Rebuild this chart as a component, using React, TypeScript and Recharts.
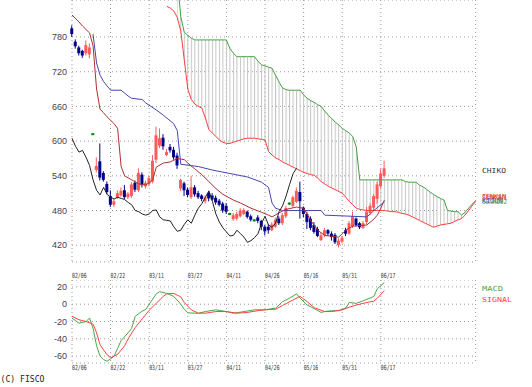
import React from 'react';
import { ComposedChart, Line, Bar, Area, XAxis, YAxis, CartesianGrid } from 'recharts';

// bar index of each date gridline and its label
const DATE_TICKS = [0, 11, 22, 33, 44, 55, 66, 77, 88];
const DATE_LABELS = ['02/06', '02/22', '03/11', '03/27', '04/11', '04/26', '05/16', '05/31', '06/17'];
const PRICE_TICKS = [420, 480, 540, 600, 660, 720, 780];
const MACD_TICKS = [-60, -40, -20, 0, 20];

// daily candles, bars 0..89
const OPEN = [795, 772, 762, 756, 752, 750, 612, 550, 565, 545, 526, 505, 490, 502, 506, 515, 503, 505, 528, 515,
  542, 522, 526, 530, 568, 592, 606, 576, 590, 585, 575, 518, 527, 516, 503, 520, 510, 506, 496, 510,
  506, 502, 497, 492, 488, 474, 465, 466, 470, 474, 478, 470, 463, 468, 462, 452, 452, 446, 452, 466,
  458, 470, 492, 488, 495, 512, 485, 474, 466, 455, 448, 429, 437, 446, 440, 438, 420, 426, 446, 440,
  452, 466, 458, 450, 460, 476, 485, 500, 522, 540];
const HIGH = [800, 776, 765, 758, 774, 769, 613, 572, 596, 548, 530, 515, 500, 515, 520, 524, 512, 529, 532, 553,
  546, 532, 540, 576, 625, 622, 612, 586, 595, 590, 580, 535, 530, 520, 540, 524, 514, 508, 506, 514,
  510, 506, 500, 495, 493, 476, 476, 478, 484, 484, 480, 473, 465, 472, 464, 455, 456, 460, 468, 470,
  476, 488, 494, 506, 520, 530, 487, 478, 470, 460, 452, 442, 450, 448, 444, 441, 432, 436, 450, 462,
  478, 468, 460, 462, 486, 492, 508, 530, 552, 566];
const LOW = [780, 760, 748, 744, 748, 743, 611, 546, 532, 530, 508, 486, 486, 500, 504, 500, 500, 502, 512, 512,
  520, 518, 522, 527, 562, 588, 585, 574, 580, 568, 552, 514, 505, 503, 500, 504, 500, 496, 492, 496,
  497, 490, 487, 476, 474, 472, 462, 463, 468, 472, 466, 461, 461, 458, 446, 437, 440, 444, 450, 455,
  455, 467, 490, 485, 493, 466, 468, 448, 446, 440, 434, 427, 434, 436, 428, 422, 416, 423, 436, 438,
  450, 452, 448, 448, 456, 472, 480, 492, 518, 536];
const CLOSE = [785, 764, 752, 748, 766, 762, 612, 557, 537, 533, 512, 490, 496, 510, 514, 503, 509, 525, 516, 545,
  524, 528, 536, 566, 610, 605, 591, 581, 584, 572, 558, 533, 515, 507, 520, 508, 503, 500, 503, 501,
  499, 494, 490, 480, 478, 474, 472, 474, 480, 481, 469, 464, 463, 462, 452, 444, 446, 456, 464, 458,
  472, 484, 492, 503, 514, 496, 474, 460, 450, 443, 436, 437, 446, 440, 434, 425, 428, 433, 440, 458,
  470, 455, 451, 458, 478, 488, 505, 525, 544, 553];

// the lagging line is the close drawn 25 bars back
const CHIKOU_SHIFT = 25;

// leading spans, one value per bar
const SPAN_A_START = 27;
const SPAN_A = [833, 830, 825, 814, 790, 740, 690, 672, 664, 660, 657, 640, 620, 614, 608, 602, 598, 596, 596, 598,
  600, 602, 604, 605, 605, 605, 604, 603, 602, 582, 576, 571, 568, 564, 561, 558, 555, 552, 549, 546,
  544, 542, 541, 536, 530, 526, 522, 519, 516, 513, 510, 503, 496, 490, 484, 482, 481, 480, 480, 480,
  480, 480, 480, 479, 478, 478, 477, 475, 474, 472, 469, 466, 463, 460, 457, 454, 451, 453, 455, 456,
  457, 458, 461, 464, 466, 472, 480, 488, 496];
const SPAN_B_START = 30;
const SPAN_B = [880, 815, 788, 783, 778, 775, 775, 775, 775, 775, 775, 775, 775, 775, 775, 760, 752, 746, 746, 746,
  746, 746, 746, 738, 732, 730, 728, 726, 714, 702, 692, 689, 688, 688, 688, 688, 680, 674, 670, 667,
  663, 660, 652, 645, 639, 633, 628, 622, 618, 614, 608, 590, 533, 533, 533, 533, 533, 533, 533, 533,
  533, 533, 533, 533, 533, 530, 529, 529, 529, 524, 521, 517, 512, 508, 504, 501, 498, 480, 479, 478,
  478, 472, 477, 484, 491, 497];

// conversion / base lines, read at their turning points [bar, value]
const TENKAN_PTS: [number, number][] = [[0, 818], [2, 806], [3, 799], [5, 787], [6, 765], [7, 690], [8, 655], [9, 649],
  [10, 642], [11, 636], [12, 630], [13, 622], [14, 556], [15, 540], [17, 533], [19, 526], [21, 524], [22, 528],
  [23, 533], [24, 555], [26, 562], [28, 564], [30, 570], [32, 568], [33, 562], [35, 552], [37, 542], [39, 530],
  [41, 518], [43, 508], [46, 498], [48, 493], [51, 484], [54, 477], [56, 472], [57, 469], [59, 476], [61, 482],
  [64, 486], [66, 484], [68, 463], [70, 446], [72, 437], [76, 434], [78, 446], [80, 453], [84, 455], [86, 465],
  [87, 472], [88, 484], [89, 498]];
const KIJUN_PTS: [number, number][] = [[6, 785], [7, 735], [8, 714], [9, 703], [11, 688], [14, 688], [15, 683],
  [16, 678], [17, 674], [20, 672], [21, 666], [24, 654], [26, 645], [29, 630], [30, 618], [31, 560], [36, 556],
  [40, 550], [45, 544], [50, 538], [54, 529], [56, 520], [57, 493], [58, 484], [60, 480], [71, 480], [72, 472],
  [84, 469], [85, 474], [86, 480], [87, 485], [88, 490], [89, 495]];

const MACD_PTS: [number, number][] = [[0, -16], [2, -22], [4, -20], [5, -16], [6, -28], [7, -48], [8, -60], [9, -64],
  [10, -66], [12, -60], [13, -51], [14, -42], [16, -33], [17, -28], [18, -14], [20, -8], [21, -6], [23, 6], [24, 12],
  [25, 14.5], [27, 12.5], [29, 9], [31, 0], [32, -6], [33, -10], [36, -10.5], [38, -8.5], [41, -6.5], [44, -8.5],
  [46, -10.5], [49, -8.5], [52, -6.5], [55, -6.5], [58, -4.5], [60, 3], [62, 7], [64, 12], [65, 7], [67, -1],
  [69, -5], [71, -9.5], [72, -8.5], [74, -7.5], [76, -7.5], [78, -4.5], [79, 2], [81, 1], [83, 4], [86, 9],
  [87, 18], [89, 25]];
const SIGNAL_PTS: [number, number][] = [[0, -14], [2, -18], [4, -20], [6, -23], [7, -33], [8, -47], [10, -58.5],
  [11, -62], [13, -58], [15, -48], [16, -40], [18, -27], [20, -17], [22, -7], [24, 1], [26, 9], [27, 12],
  [29, 12.5], [31, 8.5], [32, 2], [34, -6.5], [36, -10.4], [38, -10.4], [41, -8.5], [44, -8.5], [47, -10.4],
  [50, -9.5], [53, -7.4], [55, -6.5], [58, -5.8], [60, -1.5], [63, 5], [65, 9], [67, 3], [69, -4], [72, -8.5],
  [74, -8.5], [77, -6.5], [79, -3.5], [81, -1], [84, 2], [86, 3.5], [87, 7], [89, 15.7]];

const LAST_BAR = 115;

const UP = '#ff5a5a';
const DOWN = '#00008b';
const DOJI = '#008a00';
const TENKAN_C = '#b03030';
const KIJUN_C = '#4646b0';
const SPAN_A_C = '#ff3c3c';
const SPAN_B_C = '#44a044';
const CHIKOU_C = '#222222';
const GRID_C = '#999999';

const tenkanAt = new Map(TENKAN_PTS);
const kijunAt = new Map(KIJUN_PTS);
const macdAt = new Map(MACD_PTS);
const signalAt = new Map(SIGNAL_PTS);

const rows = Array.from({ length: LAST_BAR + 1 }, (_, i) => {
  const has = i < CLOSE.length;
  const a = i >= SPAN_A_START ? SPAN_A[i - SPAN_A_START] ?? null : null;
  const b = i >= SPAN_B_START ? SPAN_B[i - SPAN_B_START] ?? null : null;
  return {
    i,
    o: has ? OPEN[i] : null,
    h: has ? HIGH[i] : null,
    l: has ? LOW[i] : null,
    c: has ? CLOSE[i] : null,
    range: has ? [LOW[i], HIGH[i]] : null,
    chikou: CLOSE[i + CHIKOU_SHIFT] ?? null,
    spanA: a,
    spanB: b,
    cloud: a != null && b != null ? [Math.min(a, b), Math.max(a, b)] : null,
    tenkan: tenkanAt.get(i) ?? null,
    kijun: kijunAt.get(i) ?? null,
    macd: macdAt.get(i) ?? null,
    signal: signalAt.get(i) ?? null,
  };
});

const Candle = (props: any) => {
  const { x, y, width, height, payload } = props;
  if (!payload || payload.o == null) return null;
  const { o, h, l, c } = payload;
  const cx = x + width / 2;
  const py = (v: number) => (h === l ? y : y + ((h - v) / (h - l)) * height);
  if (o === c) {
    return (
      <g>
        <line x1={cx} x2={cx} y1={y} y2={y + height} stroke={DOJI} />
        <rect x={x} y={py(o) - 1} width={width} height={2} fill={DOJI} />
      </g>
    );
  }
  const color = c > o ? UP : DOWN;
  const top = py(Math.max(o, c));
  const bot = py(Math.min(o, c));
  return (
    <g>
      <line x1={cx} x2={cx} y1={y} y2={y + height} stroke={color} />
      <rect x={x} y={top} width={width} height={Math.max(1, bot - top)} fill={color} />
    </g>
  );
};

const DateTick = (props: any) => {
  const { x, payload, base } = props;
  const label = DATE_LABELS[DATE_TICKS.indexOf(payload.value)];
  return (
    <text x={x} y={base} fontSize={7} fontFamily="DejaVu Sans Mono" fill="#333"
      textLength={14.6} lengthAdjust="spacingAndGlyphs">{label}</text>
  );
};

const ValueTick = (props: any) => {
  const { y, payload } = props;
  return (
    <text x={67} y={y + 3.2} textAnchor="end" fontSize={9} fontFamily="Liberation Sans" fill="#444">
      {payload.value}
    </text>
  );
};

const MARGIN = { top: 0, right: 56.4, bottom: 0, left: 0 };

const Label = ({ y, color, text, w }: { y: number; color: string; text: string; w: number }) => (
  <text x={482} y={y} fontSize={7} fontFamily="DejaVu Sans Mono" fill={color}
    textLength={w} lengthAdjust="spacingAndGlyphs">{text}</text>
);

export default function App() {
  return (
    <div style={{ position: 'absolute', left: 0, top: 0, width: 532, height: 387, background: '#fff', overflow: 'hidden' }}>
      <svg width={0} height={0} style={{ position: 'absolute' }}>
        <defs>
          <pattern id="kumo" patternUnits="userSpaceOnUse" x={71.5} y={0} width={403.6 / 115} height={6}>
            <rect x={0} y={0} width={1} height={6} fill="#c4c4c4" />
          </pattern>
        </defs>
      </svg>

      <div style={{ position: 'absolute', left: 0, top: 0 }}>
        <ComposedChart width={532} height={280} data={rows} margin={MARGIN}>
          <CartesianGrid stroke={GRID_C} strokeDasharray="1 3" />
          <XAxis dataKey="i" type="number" domain={[0, LAST_BAR]} ticks={DATE_TICKS} interval={0}
            tick={<DateTick base={277.5} />} tickLine={false} axisLine={false} height={18} />
          <YAxis type="number" domain={[391, 844]} ticks={PRICE_TICKS} interval={0} allowDataOverflow width={72}
            tick={<ValueTick />} tickLine={false} axisLine={false} />
          <Area dataKey="cloud" type="linear" stroke="none" fill="url(#kumo)" fillOpacity={1} isAnimationActive={false} />
          <Line dataKey="spanB" type="linear" stroke={SPAN_B_C} strokeWidth={1} dot={false} isAnimationActive={false} />
          <Line dataKey="spanA" type="linear" stroke={SPAN_A_C} strokeWidth={1} dot={false} isAnimationActive={false} />
          <Line dataKey="kijun" type="linear" stroke={KIJUN_C} strokeWidth={1} dot={false} connectNulls isAnimationActive={false} />
          <Line dataKey="tenkan" type="linear" stroke={TENKAN_C} strokeWidth={1} dot={false} connectNulls isAnimationActive={false} />
          <Line dataKey="chikou" type="linear" stroke={CHIKOU_C} strokeWidth={1} dot={false} isAnimationActive={false} />
          <Bar dataKey="range" barSize={3} shape={<Candle />} isAnimationActive={false} />
        </ComposedChart>
      </div>

      <div style={{ position: 'absolute', left: 0, top: 280 }}>
        <ComposedChart width={532} height={97} data={rows} margin={MARGIN}>
          <CartesianGrid stroke={GRID_C} strokeDasharray="1 3" />
          <XAxis dataKey="i" type="number" domain={[0, LAST_BAR]} ticks={DATE_TICKS} interval={0}
            tick={<DateTick base={90} />} tickLine={false} axisLine={false} height={14} />
          <YAxis type="number" domain={[-68, 28]} ticks={MACD_TICKS} interval={0} allowDataOverflow width={72}
            tick={<ValueTick />} tickLine={false} axisLine={false} />
          <Line dataKey="macd" type="linear" stroke="#48a848" strokeWidth={1} dot={false} connectNulls isAnimationActive={false} />
          <Line dataKey="signal" type="linear" stroke="#ff4040" strokeWidth={1} dot={false} connectNulls isAnimationActive={false} />
        </ComposedChart>
      </div>

      <svg width={532} height={387} style={{ position: 'absolute', left: 0, top: 0, pointerEvents: 'none' }}>
        <Label y={173.3} color="#333" text="CHIKO" w={24} />
        <Label y={199.3} color={TENKAN_C} text="TENKAN" w={24} />
        <Label y={199.8} color={SPAN_A_C} text="SENKOU1" w={25} />
        <Label y={203.3} color={KIJUN_C} text="KIJUN" w={21} />
        <Label y={203.6} color={SPAN_B_C} text="SENKOU2" w={25} />
        <Label y={290.7} color="#48a848" text="MACD" w={21} />
        <Label y={301.7} color="#ff4040" text="SIGNAL" w={30} />
        <text x={0.5} y={382.3} fontSize={8} fontFamily="DejaVu Sans Mono" fill="#222"
          textLength={44} lengthAdjust="spacingAndGlyphs">(C) FISCO</text>
      </svg>
    </div>
  );
}
